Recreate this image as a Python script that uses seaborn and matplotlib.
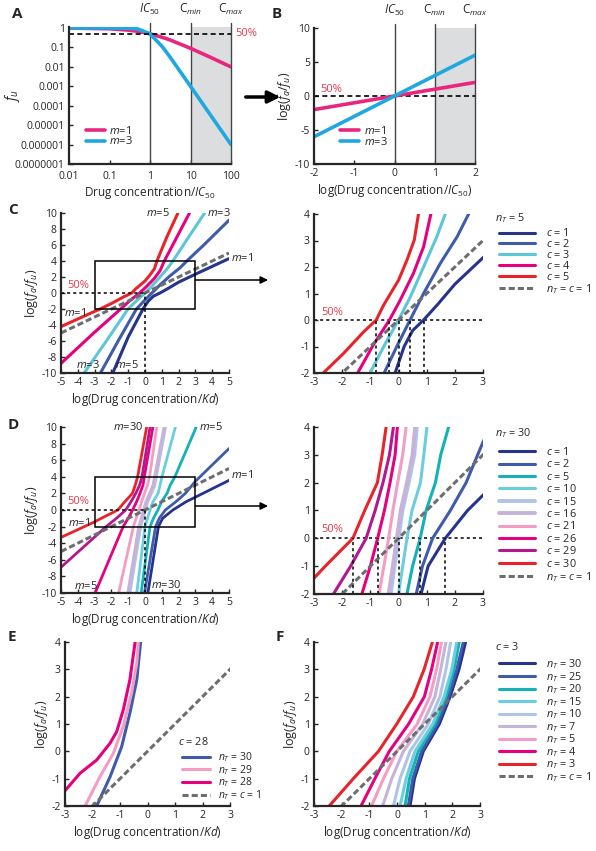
import numpy as np
import pandas as pd
import matplotlib.pyplot as plt
import seaborn as sns
from matplotlib.patches import Rectangle, FancyArrowPatch

# ---- data ----
# panel A: unbound fraction vs concentration/IC50 (log-log)
a_conc = [0.01, 0.1, 0.3, 0.5, 1, 2, 3, 10, 30, 100]
a_m1 = [0.99, 0.91, 0.77, 0.67, 0.5, 0.33, 0.25, 0.09, 0.032, 0.0099]
a_m3 = [1.0, 1.0, 0.97, 0.89, 0.5, 0.11, 0.036, 0.001, 3.7e-5, 1e-6]
a_yticks = [1, 0.1, 0.01, 0.001, 0.0001, 0.00001, 0.000001, 0.0000001]
a_ylabels = ['1', '0.1', '0.01', '0.001', '0.0001', '0.00001', '0.000001', '0.0000001']

# panel B: log(fa/fu) vs log(conc/IC50)
b_logc = [-2, 2]
b_m1 = [-2, 2]
b_m3 = [-6, 6]

# panel C (nT = 5), (x, y) pairs
c_c1 = [(-1.92, -10), (-1.0, -5.5), (-0.12, -2), (0.2, -1.0), (0.5, -0.4), (0.89, 0),
        (1.4, 0.6), (2.0, 1.35), (3.0, 2.35), (5, 4.3)]
c_c2 = [(-2.65, -10), (-1.6, -6), (-0.51, -2), (-0.06, -1.0), (0.41, 0), (0.89, 1.0),
        (1.48, 2.13), (2.08, 3.14), (2.49, 4), (3.5, 6), (5, 9.1)]
c_c3 = [(-3.62, -10), (-2.3, -6), (-1.01, -2), (-0.5, -0.95), (0, 0), (0.42, 0.87),
        (0.89, 2.0), (1.36, 3.14), (1.66, 4), (2.6, 7), (3.55, 10)]
c_c4 = [(-5, -8.8), (-3, -4.9), (-1.45, -2), (-0.9, -0.95), (-0.32, 0), (0.06, 0.75),
        (0.53, 1.76), (0.89, 2.76), (1.15, 4), (1.9, 7), (2.65, 10)]
c_c5 = [(-5, -4.2), (-3, -2.3), (-2.67, -2), (-1.96, -1.27), (-1.24, -0.45), (-0.79, 0),
        (-0.53, 0.56), (0, 1.5), (0.3, 2.26), (0.56, 3.02), (0.71, 4), (1.3, 7), (1.96, 10)]
ref_line = [(-5, -5), (5, 5)]

# panel D (nT = 30)
d_c1 = [(0.17, -10), (0.8, -2), (1.05, -1), (1.66, 0), (2.45, 1), (3, 1.55), (5, 3.57)]
d_c2 = [(-0.03, -10), (0.63, -2), (0.85, -1), (1.21, 0), (1.84, 1), (2.4, 2), (3, 3.46), (5, 7.4)]
d_c5 = [(-0.23, -10), (0.3, -2), (0.5, -1), (0.77, 0), (0.98, 1), (1.31, 2), (1.5, 3), (1.78, 4), (3.05, 10)]
d_c10 = [(-0.49, -10), (0.0, -2), (0.15, -1), (0.3, 0), (0.48, 1), (0.78, 2), (0.9, 3), (1.01, 4), (1.81, 10)]
d_c15 = [(-0.92, -10), (-0.28, -2), (-0.14, -1), (0.0, 0), (0.14, 1), (0.36, 2), (0.56, 3), (0.65, 4), (1.2, 10)]
d_c16 = [(-1.0, -10), (-0.35, -2), (-0.2, -1), (-0.06, 0), (0.08, 1), (0.3, 2), (0.5, 3), (0.59, 4), (1.16, 10)]
d_c21 = [(-1.57, -10), (-0.69, -2), (-0.52, -1), (-0.35, 0), (-0.2, 1), (-0.03, 2), (0.15, 3), (0.27, 4), (0.7, 10)]
d_c26 = [(-2.97, -10), (-1.30, -2), (-1.0, -1), (-0.74, 0), (-0.5, 1), (-0.3, 2), (-0.12, 3), (-0.04, 4), (0.47, 10)]
d_c29 = [(-5, -6.9), (-2.31, -2), (-1.7, -1), (-1.15, 0), (-0.83, 1), (-0.55, 2), (-0.32, 3), (-0.18, 4), (0.3, 10)]
d_c30 = [(-5, -3.3), (-3, -1.43), (-2.6, -1), (-1.62, 0), (-1.2, 1), (-0.75, 2), (-0.58, 3), (-0.44, 4), (0.1, 10)]

# panel E (c = 28)
e_n28 = [(-3, -1.44), (-2.45, -0.8), (-1.85, -0.32), (-1.36, 0.3), (-1.12, 0.72),
         (-0.88, 1.52), (-0.64, 2.62), (-0.45, 4)]
e_n29 = [(-2.27, -2), (-1.73, -0.93), (-1.24, -0.07), (-0.88, 0.91), (-0.58, 2.13),
         (-0.39, 3.23), (-0.33, 4)]
e_n30 = [(-1.85, -2), (-1.36, -0.93), (-0.94, 0.17), (-0.64, 1.4), (-0.39, 2.62), (-0.25, 4)]

# panel F (c = 3): x position of each curve at these y levels
f_levels = [-2, -1, 0, 1, 2, 3, 4]
f_n3 = [-2.45, -1.58, -0.67, -0.01, 0.59, 0.98, 1.28]
f_n4 = [-1.3, -0.8, -0.28, 0.42, 0.99, 1.25, 1.47]
f_n5 = [-0.92, -0.49, -0.01, 0.73, 1.19, 1.43, 1.61]
f_n7 = [-0.52, -0.19, 0.23, 0.93, 1.37, 1.58, 1.77]
f_n10 = [-0.13, 0.11, 0.47, 1.13, 1.55, 1.77, 1.94]
f_n15 = [0.11, 0.33, 0.65, 1.29, 1.70, 1.98, 2.16]
f_n20 = [0.29, 0.45, 0.77, 1.37, 1.77, 2.06, 2.25]
f_n25 = [0.41, 0.57, 0.89, 1.46, 1.86, 2.16, 2.40]
f_n30 = [0.47, 0.63, 0.95, 1.53, 1.92, 2.24, 2.48]

# colours
NAVY, BLUE, TEAL, LCYAN = '#27348B', '#3F5BA9', '#14B1B7', '#6CCDDE'
LBLUE, LAV, LPINK = '#AFC4E6', '#C5B3DA', '#F39DC3'
MAG, PURP, RED, GRAY = '#E5007E', '#B3188E', '#E8242B', '#6D6E71'
C3CYAN = '#5EC6D6'
PINK_A, CYAN_A = '#E8267F', '#1FA8DF'
TXT_RED = '#E63B50'

sns.set_style('ticks')
plt.rcParams['font.family'] = ['Open Sans', 'DejaVu Sans']
plt.rcParams['mathtext.fontset'] = 'custom'
plt.rcParams['mathtext.rm'] = 'Open Sans'
plt.rcParams['mathtext.it'] = 'Open Sans:italic'
plt.rcParams['mathtext.bf'] = 'Open Sans:bold'
plt.rcParams['axes.unicode_minus'] = False

fig = plt.figure(figsize=(5.96, 8.51), dpi=100)
W, H = 596, 851


def add_ax(x0, y_top, x1, y_bot):
    ax = fig.add_axes([x0 / W, 1 - y_bot / H, (x1 - x0) / W, (y_bot - y_top) / H])
    ax.patch.set_alpha(0)
    sns.despine(ax=ax)
    for s in ['left', 'bottom']:
        ax.spines[s].set_linewidth(1.6)
    ax.tick_params(direction='in', length=3, width=1, labelsize=7.5)
    ax.tick_params(axis='x', pad=3)
    ax.tick_params(axis='y', pad=3)
    return ax


def draw(ax, x, y, color, lw=2.2, dashed=False):
    df = pd.DataFrame({'x': x, 'y': y})
    sns.lineplot(data=df, x='x', y='y', ax=ax, color=color, lw=lw,
                 sort=False, estimator=None, legend=False)
    line = ax.lines[-1]
    if dashed:
        line.set_dashes([2.0, 1.0])
    ax.set_xlabel('')
    ax.set_ylabel('')
    return line


def draw_pts(ax, pts, color, lw=2.2, dashed=False):
    xs, ys = zip(*pts)
    return draw(ax, list(xs), list(ys), color, lw, dashed)


def crossing(pts):
    xs, ys = zip(*pts)
    return float(np.interp(0, ys, xs))


def side_legend(ax, handles, labels, title, x, title_y, top_y, spacing):
    # legend title as its own text so the gap below it can be set freely
    ax.text(x + 0.005, title_y, title, transform=ax.transAxes, fontsize=7.8,
            ha='left', va='center')
    ax.legend(handles, labels, loc='upper left', bbox_to_anchor=(x, top_y),
              **dict(leg_kw, labelspacing=spacing))


ylab = r'log($f_a$/$f_u$)'
xlab_kd = r'log(Drug concentration/$Kd$)'
leg_kw = dict(frameon=False, fontsize=7.8, handlelength=3.3,
              handletextpad=1.0, labelspacing=-0.12, borderpad=0)

# ---------------- A ----------------
axA = add_ax(69, 27, 231, 164)
axA.axvspan(10, 100, color='#DCDDDE', lw=0)
for xv in [1, 10, 100]:
    axA.axvline(xv, color='#444444', lw=1, ymax=1.03, clip_on=False)
la1 = draw(axA, a_conc, a_m1, PINK_A, lw=2.6)
la3 = draw(axA, a_conc, a_m3, CYAN_A, lw=2.6)
axA.hlines(0.5, 0.01, 100, colors='black', linestyles=(0, (3, 2)), lw=1.2)
axA.set_xscale('log')
axA.set_yscale('log')
axA.set_xlim(0.01, 100)
axA.set_ylim(1e-7, 1.12)
axA.set_xticks([0.01, 0.1, 1, 10, 100])
axA.set_xticklabels(['0.01', '0.1', '1', '10', '100'])
axA.set_yticks(a_yticks)
axA.set_yticklabels(a_ylabels)
axA.minorticks_off()
axA.tick_params(axis='x', pad=5)
axA.set_xlabel(r'Drug concentration/$IC_{\mathit{50}}$', fontsize=8.5, labelpad=2)
axA.set_ylabel(r'$f_u$', fontsize=10)
axA.yaxis.set_label_coords(-0.29, 0.5)
axA.text(130, 0.5, '50%', color=TXT_RED, fontsize=8, va='center', ha='left')
for xv, t in zip([1, 10, 100], [r'$IC_{\mathit{50}}$', r'C$_{min}$', r'C$_{max}$']):
    axA.text(xv, 1.07, t, transform=axA.get_xaxis_transform(), ha='center',
             va='bottom', fontsize=8.5)
axA.legend([la1, la3], [r'$m$=1', r'$m$=3'], loc='lower left', bbox_to_anchor=(0.07, 0.08),
           frameon=False, fontsize=8, handlelength=1.7, handletextpad=0.4,
           labelspacing=-0.1, borderpad=0)

# ---------------- B ----------------
axB = add_ax(314, 28, 475, 164)
axB.axvspan(1, 2, color='#DCDDDE', lw=0)
for xv in [0, 1, 2]:
    axB.axvline(xv, color='#444444', lw=1, ymax=1.03, clip_on=False)
axB.axhline(0, color='black', ls=(0, (3, 2)), lw=1.2)
lb1 = draw(axB, b_logc, b_m1, PINK_A, lw=2.6)
lb3 = draw(axB, b_logc, b_m3, CYAN_A, lw=2.6)
axB.set_xlim(-2, 2)
axB.set_ylim(-10, 10)
axB.set_xticks([-2, -1, 0, 1, 2])
axB.set_yticks([-10, -5, 0, 5, 10])
axB.set_xlabel(r'log(Drug concentration/$IC_{\mathit{50}}$)', fontsize=8.5, labelpad=2)
axB.set_ylabel(ylab, fontsize=9, labelpad=1)
axB.text(-1.85, 1.0, '50%', color=TXT_RED, fontsize=8, va='center', ha='left')
for xv, t in zip([0, 1, 2], [r'$IC_{\mathit{50}}$', r'C$_{min}$', r'C$_{max}$']):
    axB.text(xv, 1.07, t, transform=axB.get_xaxis_transform(), ha='center',
             va='bottom', fontsize=8.5)
axB.legend([lb1, lb3], [r'$m$=1', r'$m$=3'], loc='lower left', bbox_to_anchor=(0.13, 0.08),
           frameon=False, fontsize=8, handlelength=1.7, handletextpad=0.4,
           labelspacing=-0.1, borderpad=0)

# big arrow A -> B
fig.add_artist(FancyArrowPatch(
    (243 / W, 1 - 97 / H), (283 / W, 1 - 97 / H), transform=fig.transFigure,
    arrowstyle='-|>', mutation_scale=18, lw=2.5, color='black'))

zoom_x = (-3, 3)
zoom_y = (-2, 4)


def left_panel(ax, arrow_y):
    ax.set_xlim(-5, 5)
    ax.set_ylim(-10, 10)
    ax.set_xticks(range(-5, 6))
    ax.set_yticks(range(-10, 11, 2))
    ax.set_xlabel(xlab_kd, fontsize=8.5, labelpad=2)
    ax.set_ylabel(ylab, fontsize=9, labelpad=1)
    ax.add_patch(Rectangle((zoom_x[0], zoom_y[0]), zoom_x[1] - zoom_x[0],
                           zoom_y[1] - zoom_y[0], fill=False, lw=1.1, color='black', zorder=5))
    ax.annotate('', xy=(268 / W, 1 - arrow_y / H), xycoords='figure fraction',
                xytext=(zoom_x[1], ax.transData.inverted().transform(
                    (0, (1 - arrow_y / H) * H))[1]), textcoords='data',
                arrowprops=dict(arrowstyle='-|>', lw=1.1, color='black', mutation_scale=11,
                                shrinkA=0, shrinkB=0))


def right_panel(ax):
    ax.set_xlim(*zoom_x)
    ax.set_ylim(*zoom_y)
    ax.set_xticks(range(-3, 4))
    ax.set_yticks(range(-2, 5))
    ax.set_xlabel(xlab_kd, fontsize=8.5, labelpad=2)
    ax.set_ylabel(ylab, fontsize=9, labelpad=1)
    ax.axhline(0, color='black', ls=(0, (2, 2)), lw=1.1, zorder=0)
    ax.text(-2.75, 0.3, '50%', color=TXT_RED, fontsize=8, va='center', ha='left')


# ---------------- C ----------------
c_curves = [(c_c1, NAVY), (c_c2, BLUE), (c_c3, C3CYAN), (c_c4, MAG), (c_c5, RED)]
axC = add_ax(61, 213, 229, 373)
for pts, col in c_curves:
    draw_pts(axC, pts, col)
draw_pts(axC, ref_line, GRAY, dashed=True)
x0 = crossing(c_c3)
axC.plot([-5, x0], [0, 0], color='black', ls=(0, (2, 2)), lw=1.1)
axC.plot([x0, x0], [-10, 0], color='black', ls=(0, (2, 2)), lw=1.1)
left_panel(axC, 280)
axC.text(-4.6, 1.0, '50%', color=TXT_RED, fontsize=8, va='center', ha='left')
tk = dict(fontsize=8)
axC.text(1.5, 10, r'$m$=5', ha='right', va='center', **tk)
axC.text(3.7, 10, r'$m$=3', ha='left', va='center', **tk)
axC.text(5.1, 4.4, r'$m$=1', ha='left', va='center', **tk)
axC.text(-4.8, -2.5, r'$m$=1', ha='left', va='center', **tk)
axC.text(-4.1, -9.0, r'$m$=3', ha='left', va='center', **tk)
axC.text(-1.8, -9.0, r'$m$=5', ha='left', va='center', **tk)

axC2 = add_ax(314, 214, 483, 373)
right_panel(axC2)
handles = []
for pts, col in c_curves:
    handles.append(draw_pts(axC2, pts, col))
handles.append(draw_pts(axC2, ref_line, GRAY, dashed=True))
for pts, _ in c_curves:
    xc = crossing(pts)
    axC2.plot([xc, xc], [-2, 0], color='black', ls=(0, (2, 2)), lw=1.1)
side_legend(axC2, handles, [r'$c$ = 1', r'$c$ = 2', r'$c$ = 3', r'$c$ = 4', r'$c$ = 5',
                            r'$n_T$ = $c$ = 1'],
            r'$n_T$ = 5', 1.065, 0.975, 0.95, -0.1)

# ---------------- D ----------------
d_curves = [(d_c1, NAVY), (d_c2, BLUE), (d_c5, TEAL), (d_c10, LCYAN), (d_c15, LBLUE),
            (d_c16, LAV), (d_c21, LPINK), (d_c26, MAG), (d_c29, PURP), (d_c30, RED)]
axD = add_ax(61, 427, 229, 593)
for pts, col in d_curves:
    draw_pts(axD, pts, col, lw=2.6 if col in (LBLUE, LAV) else 2.0)
draw_pts(axD, ref_line, GRAY, dashed=True)
x0 = crossing(d_c15)
axD.plot([-5, x0], [0, 0], color='black', ls=(0, (2, 2)), lw=1.1)
axD.plot([x0, x0], [-10, 0], color='black', ls=(0, (2, 2)), lw=1.1)
left_panel(axD, 506)
axD.text(-4.6, 1.0, '50%', color=TXT_RED, fontsize=8, va='center', ha='left')
axD.text(-0.1, 10, r'$m$=30', ha='right', va='center', **tk)
axD.text(3.2, 10, r'$m$=5', ha='left', va='center', **tk)
axD.text(5.1, 4.2, r'$m$=1', ha='left', va='center', **tk)
axD.text(-4.6, -1.6, r'$m$=1', ha='left', va='center', **tk)
axD.text(-4.2, -9.2, r'$m$=5', ha='left', va='center', **tk)
axD.text(0.35, -9.0, r'$m$=30', ha='left', va='center', **tk)

axD2 = add_ax(314, 427, 483, 594)
right_panel(axD2)
handles = []
for pts, col in d_curves:
    handles.append(draw_pts(axD2, pts, col, lw=2.8 if col in (LBLUE, LAV) else 2.2))
handles.append(draw_pts(axD2, ref_line, GRAY, dashed=True))
for pts in [d_c30, d_c26, d_c15, d_c5, d_c1]:
    xc = crossing(pts)
    axD2.plot([xc, xc], [-2, 0], color='black', ls=(0, (2, 2)), lw=1.1)
d_labels = [r'$c$ = %d' % c for c in [1, 2, 5, 10, 15, 16, 21, 26, 29, 30]] + [r'$n_T$ = $c$ = 1']
side_legend(axD2, handles, d_labels, r'$n_T$ = 30', 1.065, 0.964, 0.918, 0.035)

# ---------------- E ----------------
axE = add_ax(65, 642, 230, 806)
le30 = draw_pts(axE, e_n30, BLUE)
le29 = draw_pts(axE, e_n29, LPINK)
le28 = draw_pts(axE, e_n28, MAG)
leref = draw_pts(axE, ref_line, GRAY, dashed=True)
axE.set_xlim(-3, 3)
axE.set_ylim(-2, 4)
axE.set_xticks(range(-3, 4))
axE.set_yticks(range(-2, 5))
axE.set_xlabel(xlab_kd, fontsize=8.5, labelpad=2)
axE.set_ylabel(ylab, fontsize=9, labelpad=1)
axE.text(0.682, 0.39, r'$c$ = 28', transform=axE.transAxes, fontsize=7.8,
         ha='left', va='center')
axE.legend([le30, le29, le28, leref],
           [r'$n_T$ = 30', r'$n_T$ = 29', r'$n_T$ = 28', r'$n_T$ = $c$ = 1'],
           loc='upper left', bbox_to_anchor=(0.677, 0.37),
           **dict(leg_kw, fontsize=7.5, handlelength=2.7, handletextpad=0.8,
                  labelspacing=-0.12))

# ---------------- F ----------------
axF = add_ax(314, 642, 480, 806)
f_curves = [(f_n30, NAVY), (f_n25, BLUE), (f_n20, TEAL), (f_n15, LCYAN), (f_n10, LBLUE),
            (f_n7, LAV), (f_n5, LPINK), (f_n4, MAG), (f_n3, RED)]
handles = []
for xs, col in f_curves:
    handles.append(draw(axF, xs, f_levels, col))
handles.append(draw_pts(axF, ref_line, GRAY, dashed=True))
axF.set_xlim(-3, 3)
axF.set_ylim(-2, 4)
axF.set_xticks(range(-3, 4))
axF.set_yticks(range(-2, 5))
axF.set_xlabel(xlab_kd, fontsize=8.5, labelpad=2)
axF.set_ylabel(ylab, fontsize=9, labelpad=1)
f_labels = [r'$n_T$ = %d' % n for n in [30, 25, 20, 15, 10, 7, 5, 4, 3]] + [r'$n_T$ = $c$ = 1']
side_legend(axF, handles, f_labels, r'$c$ = 3', 1.084, 0.97, 0.94, -0.115)

# panel letters
for t, (px, py) in zip('ABCDEF', [(12, 14), (272, 14), (8, 210), (8, 425), (8, 637), (276, 637)]):
    fig.text(px / W, 1 - py / H, t, fontsize=11, fontweight='bold', va='center', ha='left')

fig.savefig('out.png', dpi=100)
